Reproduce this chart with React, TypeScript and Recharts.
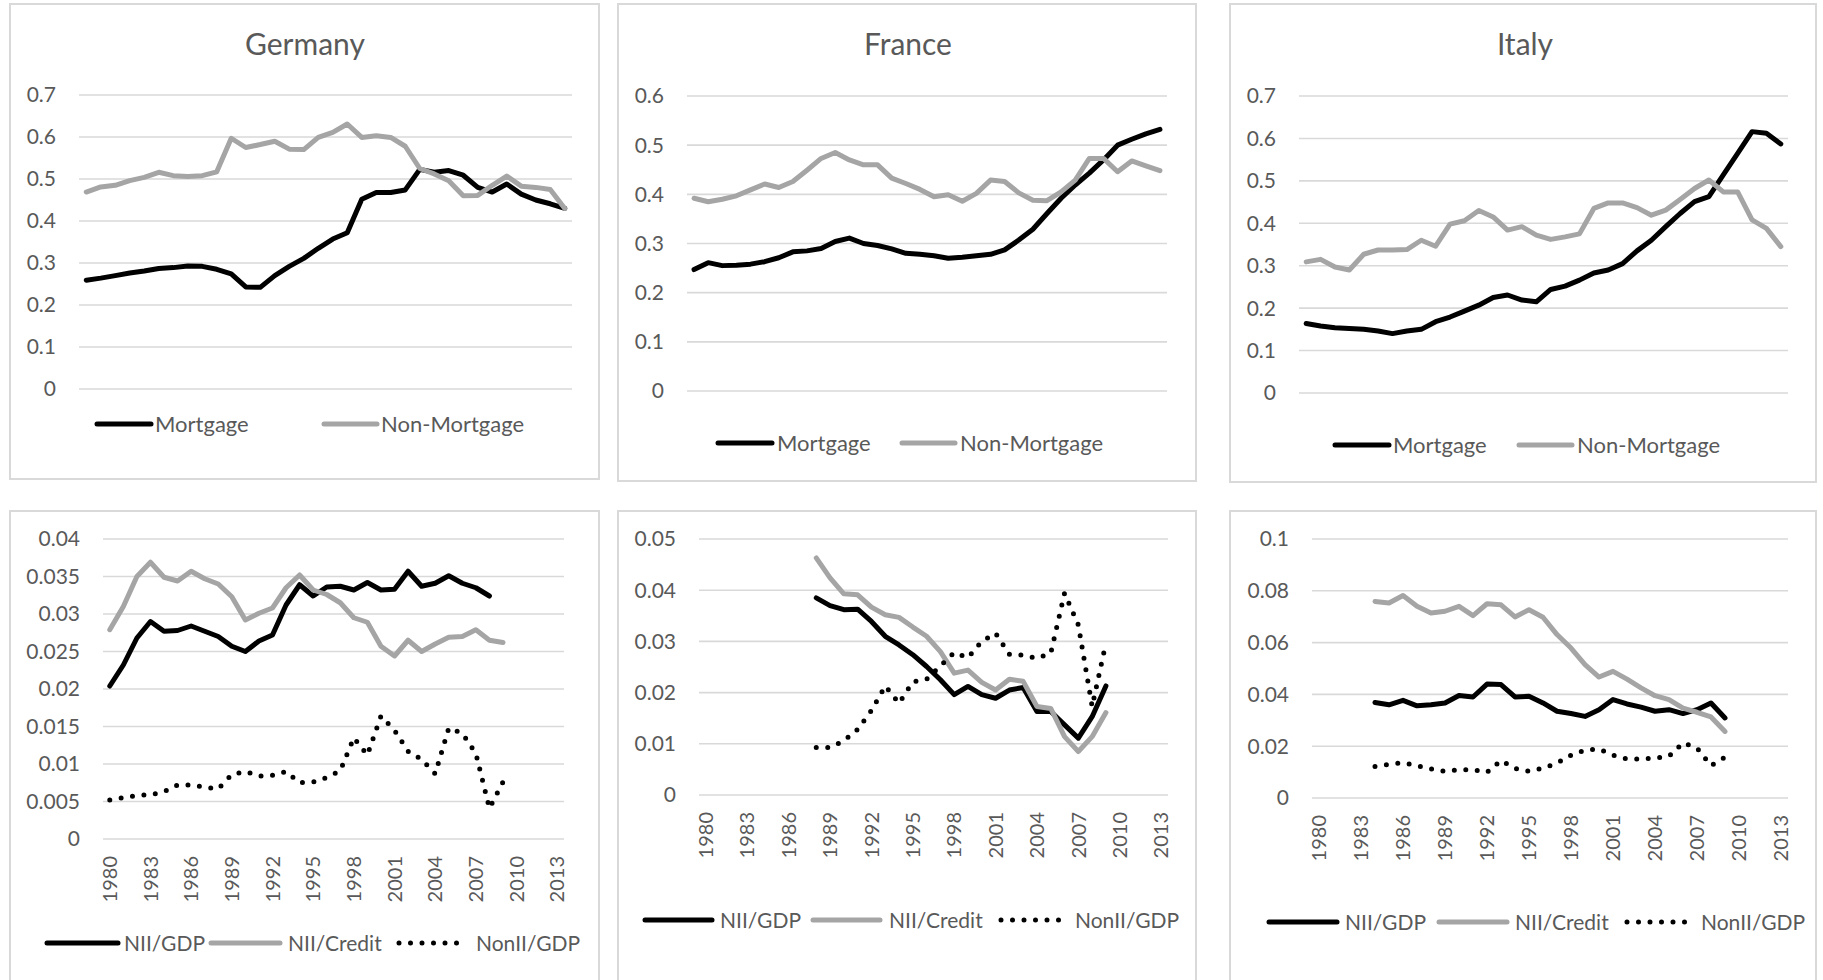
import React from 'react';
import { LineChart, Line, XAxis, YAxis, CartesianGrid } from 'recharts';

// ---------- categories ----------
const years = [1980, 1981, 1982, 1983, 1984, 1985, 1986, 1987, 1988, 1989, 1990, 1991, 1992, 1993, 1994, 1995, 1996, 1997, 1998, 1999, 2000, 2001, 2002, 2003, 2004, 2005, 2006, 2007, 2008, 2009, 2010, 2011, 2012, 2013];
const xTickYears = [1980, 1983, 1986, 1989, 1992, 1995, 1998, 2001, 2004, 2007, 2010, 2013];

// ---------- tick labels ----------
const ticksGermanyTop = [0, 0.1, 0.2, 0.3, 0.4, 0.5, 0.6, 0.7];
const ticksFranceTop = [0, 0.1, 0.2, 0.3, 0.4, 0.5, 0.6];
const ticksItalyTop = [0, 0.1, 0.2, 0.3, 0.4, 0.5, 0.6, 0.7];
const ticksGermanyBottom = [0, 0.005, 0.01, 0.015, 0.02, 0.025, 0.03, 0.035, 0.04];
const ticksFranceBottom = [0, 0.01, 0.02, 0.03, 0.04, 0.05];
const ticksItalyBottom = [0, 0.02, 0.04, 0.06, 0.08, 0.1];

// ---------- series: top row ----------
const deMortgage = [0.259, 0.264, 0.270, 0.276, 0.281, 0.287, 0.289, 0.293, 0.292, 0.285, 0.274, 0.243, 0.242, 0.270, 0.292, 0.311, 0.335, 0.357, 0.372, 0.452, 0.468, 0.468, 0.474, 0.523, 0.516, 0.520, 0.509, 0.480, 0.469, 0.488, 0.464, 0.450, 0.441, 0.430];
const deNonMortgage = [0.469, 0.481, 0.485, 0.496, 0.504, 0.516, 0.508, 0.506, 0.508, 0.517, 0.597, 0.575, 0.582, 0.590, 0.571, 0.570, 0.599, 0.611, 0.631, 0.599, 0.603, 0.599, 0.578, 0.525, 0.512, 0.496, 0.460, 0.461, 0.485, 0.507, 0.483, 0.480, 0.475, 0.430];
const frMortgage = [0.247, 0.261, 0.255, 0.256, 0.258, 0.263, 0.271, 0.283, 0.285, 0.290, 0.304, 0.311, 0.300, 0.296, 0.289, 0.280, 0.278, 0.275, 0.270, 0.272, 0.275, 0.278, 0.287, 0.307, 0.329, 0.361, 0.392, 0.419, 0.443, 0.470, 0.500, 0.512, 0.523, 0.532];
const frNonMortgage = [0.392, 0.385, 0.390, 0.397, 0.409, 0.421, 0.414, 0.426, 0.449, 0.473, 0.485, 0.470, 0.460, 0.460, 0.433, 0.422, 0.410, 0.395, 0.399, 0.386, 0.402, 0.429, 0.426, 0.403, 0.388, 0.387, 0.405, 0.429, 0.473, 0.473, 0.446, 0.468, 0.458, 0.448];
const itMortgage = [0.164, 0.158, 0.154, 0.152, 0.150, 0.146, 0.140, 0.146, 0.150, 0.168, 0.179, 0.193, 0.207, 0.225, 0.231, 0.219, 0.215, 0.244, 0.252, 0.266, 0.283, 0.290, 0.305, 0.335, 0.360, 0.392, 0.423, 0.451, 0.463, 0.514, 0.565, 0.616, 0.612, 0.587];
const itNonMortgage = [0.309, 0.315, 0.297, 0.290, 0.327, 0.337, 0.337, 0.338, 0.360, 0.346, 0.398, 0.406, 0.430, 0.415, 0.384, 0.392, 0.372, 0.362, 0.368, 0.375, 0.435, 0.448, 0.448, 0.437, 0.419, 0.431, 0.456, 0.482, 0.502, 0.474, 0.474, 0.408, 0.388, 0.345];

// ---------- series: bottom row ----------
const deNiiGdp = [0.0204, 0.0232, 0.0268, 0.0290, 0.0277, 0.0278, 0.0284, 0.0277, 0.0270, 0.0257, 0.0250, 0.0264, 0.0272, 0.0312, 0.0339, 0.0324, 0.0336, 0.0337, 0.0332, 0.0342, 0.0332, 0.0333, 0.0357, 0.0337, 0.0341, 0.0351, 0.0341, 0.0335, 0.0324, null, null, null, null, null];
const deNiiCredit = [0.0279, 0.0310, 0.0350, 0.0369, 0.0349, 0.0344, 0.0357, 0.0347, 0.0340, 0.0323, 0.0292, 0.0301, 0.0308, 0.0335, 0.0352, 0.0332, 0.0326, 0.0315, 0.0295, 0.0289, 0.0257, 0.0244, 0.0265, 0.0250, 0.0260, 0.0269, 0.0270, 0.0279, 0.0265, 0.0262, null, null, null, null];
const deNonIiGdp = [0.0052, 0.0055, 0.0058, 0.0059, 0.0063, 0.0072, 0.0072, 0.0069, 0.0067, 0.0086, 0.0090, 0.0084, 0.0085, 0.0090, 0.0075, 0.0076, 0.0082, 0.0091, 0.0135, 0.0112, 0.0164, 0.0145, 0.0117, 0.0106, 0.0087, 0.0148, 0.0141, 0.0114, 0.0041, 0.0076, null, null, null, null];
const frNiiGdp = [null, null, null, null, null, null, null, null, 0.0385, 0.0370, 0.0362, 0.0363, 0.0339, 0.0310, 0.0293, 0.0274, 0.0251, 0.0225, 0.0196, 0.0212, 0.0196, 0.0189, 0.0205, 0.0210, 0.0163, 0.0163, 0.0137, 0.0111, 0.0153, 0.0213, null, null, null, null];
const frNiiCredit = [null, null, null, null, null, null, null, null, 0.0463, 0.0424, 0.0393, 0.0391, 0.0367, 0.0352, 0.0347, 0.0328, 0.0310, 0.0280, 0.0238, 0.0244, 0.0220, 0.0205, 0.0226, 0.0222, 0.0173, 0.0169, 0.0114, 0.0085, 0.0114, 0.0161, null, null, null, null];
const frNonIiGdp = [null, null, null, null, null, null, null, null, 0.0093, 0.0093, 0.0106, 0.0128, 0.0165, 0.0213, 0.0179, 0.0221, 0.0226, 0.0252, 0.0278, 0.0268, 0.0300, 0.0316, 0.0275, 0.0273, 0.0267, 0.0277, 0.0394, 0.0332, 0.0173, 0.0297, null, null, null, null];
const itNiiGdp = [null, null, null, null, 0.0369, 0.0360, 0.0377, 0.0356, 0.0360, 0.0367, 0.0396, 0.0390, 0.0440, 0.0438, 0.0390, 0.0393, 0.0367, 0.0335, 0.0326, 0.0315, 0.0341, 0.0380, 0.0363, 0.0351, 0.0335, 0.0341, 0.0326, 0.0341, 0.0367, 0.0309, null, null, null, null];
const itNiiCredit = [null, null, null, null, 0.0759, 0.0753, 0.0782, 0.0740, 0.0714, 0.0721, 0.0740, 0.0704, 0.0750, 0.0746, 0.0699, 0.0727, 0.0698, 0.0631, 0.0579, 0.0515, 0.0467, 0.0489, 0.0459, 0.0425, 0.0395, 0.0380, 0.0347, 0.0331, 0.0313, 0.0257, null, null, null, null];
const itNonIiGdp = [null, null, null, null, 0.0122, 0.0130, 0.0136, 0.0125, 0.0112, 0.0103, 0.0109, 0.0109, 0.0099, 0.0145, 0.0114, 0.0103, 0.0115, 0.0135, 0.0165, 0.0185, 0.0189, 0.0165, 0.0151, 0.0151, 0.0154, 0.0161, 0.0213, 0.0193, 0.0125, 0.0157, null, null, null, null];

// ---------- styles ----------
const BLACK = '#000000';
const GREY = '#A5A5A5';
const GRID = '#D9D9D9';
const TEXT = '#595959';
const FONT = 'Lato, "Open Sans", sans-serif';
const LINE_W = 5;
const DOT_GAP = '0 11.5';

type Series = { key: string; name: string; values: (number | null)[]; color: string; dotted?: boolean };
type Box = { left: number; top: number; width: number; height: number };
type Plot = { left: number; top: number; right: number; bottom: number };

function buildRows(series: Series[]) {
  return years.map((y, i) => {
    const row: Record<string, number | null> = { year: y };
    series.forEach((s) => {
      row[s.key] = s.values[i];
    });
    return row;
  });
}

const XTick = (props: any) => {
  const { x, y, payload } = props;
  return (
    <g transform={`translate(${x},${y})`}>
      <text transform="rotate(-90)" x={-17} y={0} dy="0.36em" textAnchor="end" fontSize={20} fill={TEXT} fontFamily={FONT}>
        {payload.value}
      </text>
    </g>
  );
};

function Panel(props: { box: Box; plot: Plot; yMax: number; yTicks: number[]; series: Series[]; showX: boolean }) {
  const { box, plot, yMax, yTicks, series, showX } = props;
  const yw = 60;
  const xAxisH = 80;
  const margin = {
    top: plot.top - box.top,
    left: plot.left - box.left - yw,
    right: box.left + box.width - plot.right,
    bottom: box.top + box.height - plot.bottom - (showX ? xAxisH : 0),
  };
  const pad = (plot.right - plot.left) / 68;
  const rows = buildRows(series);
  return (
    <div style={{ position: 'absolute', left: box.left, top: box.top, width: box.width, height: box.height }}>
      <LineChart width={box.width} height={box.height} data={rows} margin={margin}>
        <CartesianGrid vertical={false} stroke={GRID} strokeWidth={1.6} />
        <XAxis
          dataKey="year"
          type="category"
          hide={!showX}
          ticks={xTickYears}
          interval={0}
          padding={{ left: pad, right: pad }}
          axisLine={false}
          tickLine={false}
          tickSize={0}
          tickMargin={0}
          height={xAxisH}
          tick={<XTick />}
        />
        <YAxis
          type="number"
          domain={[0, yMax]}
          ticks={yTicks}
          interval={0}
          width={yw}
          axisLine={false}
          tickLine={false}
          tickSize={0}
          tickMargin={23}
          tick={{ fontSize: 21, fill: TEXT, fontFamily: FONT }}
          tickFormatter={(v: number) => String(v)}
        />
        {series.map((s) => (
          <Line
            key={s.key}
            type="linear"
            dataKey={s.key}
            name={s.name}
            stroke={s.color}
            strokeWidth={LINE_W}
            strokeLinecap="round"
            strokeLinejoin="round"
            strokeDasharray={s.dotted ? DOT_GAP : undefined}
            dot={false}
            activeDot={false}
            connectNulls={false}
            isAnimationActive={false}
          />
        ))}
      </LineChart>
    </div>
  );
}

const topSeries = (m: (number | null)[], n: (number | null)[]): Series[] => [
  { key: 'mortgage', name: 'Mortgage', values: m, color: BLACK },
  { key: 'nonMortgage', name: 'Non-Mortgage', values: n, color: GREY },
];
const bottomSeries = (a: (number | null)[], b: (number | null)[], c: (number | null)[]): Series[] => [
  { key: 'niiGdp', name: 'NII/GDP', values: a, color: BLACK },
  { key: 'niiCredit', name: 'NII/Credit', values: b, color: GREY },
  { key: 'nonIiGdp', name: 'NonII/GDP', values: c, color: BLACK, dotted: true },
];

const panels = [
  { title: 'Germany', titleX: 305, box: { left: 9, top: 3, width: 591, height: 477 }, plot: { left: 79, top: 95, right: 572, bottom: 389 }, yMax: 0.7, yTicks: ticksGermanyTop, series: topSeries(deMortgage, deNonMortgage), showX: false },
  { title: 'France', titleX: 908, box: { left: 617, top: 3, width: 580, height: 479 }, plot: { left: 687, top: 96, right: 1167, bottom: 391 }, yMax: 0.6, yTicks: ticksFranceTop, series: topSeries(frMortgage, frNonMortgage), showX: false },
  { title: 'Italy', titleX: 1525, box: { left: 1229, top: 3, width: 588, height: 480 }, plot: { left: 1299, top: 96, right: 1788, bottom: 393 }, yMax: 0.7, yTicks: ticksItalyTop, series: topSeries(itMortgage, itNonMortgage), showX: false },
  { title: '', titleX: 0, box: { left: 9, top: 510, width: 591, height: 480 }, plot: { left: 103, top: 539, right: 564, bottom: 839 }, yMax: 0.04, yTicks: ticksGermanyBottom, series: bottomSeries(deNiiGdp, deNiiCredit, deNonIiGdp), showX: true },
  { title: '', titleX: 0, box: { left: 617, top: 510, width: 580, height: 480 }, plot: { left: 699, top: 539, right: 1168, bottom: 795 }, yMax: 0.05, yTicks: ticksFranceBottom, series: bottomSeries(frNiiGdp, frNiiCredit, frNonIiGdp), showX: true },
  { title: '', titleX: 0, box: { left: 1229, top: 510, width: 588, height: 480 }, plot: { left: 1312, top: 539, right: 1788, bottom: 798 }, yMax: 0.1, yTicks: ticksItalyBottom, series: bottomSeries(itNiiGdp, itNiiCredit, itNonIiGdp), showX: true },
];

// legend layout: [panelIndex, seriesIndex, x1, x2, textX, y, fontSize]
const legendLayout = [
  [0, 0, 97, 151, 155, 424, 22], [0, 1, 324, 377, 381, 424, 22],
  [1, 0, 718, 772, 777, 443, 22], [1, 1, 902, 955, 960, 443, 22],
  [2, 0, 1335, 1389, 1393, 445, 22], [2, 1, 1519, 1572, 1577, 445, 22],
  [3, 0, 47, 118, 124, 943, 21], [3, 1, 211, 280, 288, 943, 21], [3, 2, 399, 457, 476, 943, 21],
  [4, 0, 645, 712, 720, 920, 21], [4, 1, 813, 880, 889, 920, 21], [4, 2, 1001, 1059, 1075, 920, 21],
  [5, 0, 1269, 1337, 1345, 922, 21], [5, 1, 1439, 1507, 1515, 922, 21], [5, 2, 1627, 1685, 1701, 922, 21],
];

export default function App() {
  return (
    <div style={{ position: 'absolute', left: 0, top: 0, width: 1823, height: 980, background: '#ffffff', overflow: 'hidden', fontFamily: FONT }}>
      {panels.map((p, i) => (
        <div
          key={'b' + i}
          style={{ position: 'absolute', left: p.box.left, top: p.box.top, width: p.box.width, height: p.box.height, border: `2px solid ${GRID}`, boxSizing: 'border-box' }}
        />
      ))}
      {panels.map((p, i) => (
        <Panel key={'p' + i} box={p.box} plot={p.plot} yMax={p.yMax} yTicks={p.yTicks} series={p.series} showX={p.showX} />
      ))}
      <svg width={1823} height={980} style={{ position: 'absolute', left: 0, top: 0, pointerEvents: 'none' }}>
        {panels.map((p, i) =>
          p.title ? (
            <text key={'t' + i} x={p.titleX} y={55} textAnchor="middle" fontSize={30} fill={TEXT} fontFamily={FONT}>
              {p.title}
            </text>
          ) : null
        )}
        {legendLayout.map(([pi, si, x1, x2, tx, y, fs], i) => {
          const s = panels[pi].series[si];
          return (
            <g key={'l' + i}>
              <line
                x1={x1}
                x2={x2}
                y1={y}
                y2={y}
                stroke={s.color}
                strokeWidth={LINE_W}
                strokeLinecap="round"
                strokeDasharray={s.dotted ? DOT_GAP : undefined}
              />
              <text x={tx} y={y + 7.5} fontSize={fs} fill={TEXT} fontFamily={FONT}>
                {s.name}
              </text>
            </g>
          );
        })}
      </svg>
    </div>
  );
}
